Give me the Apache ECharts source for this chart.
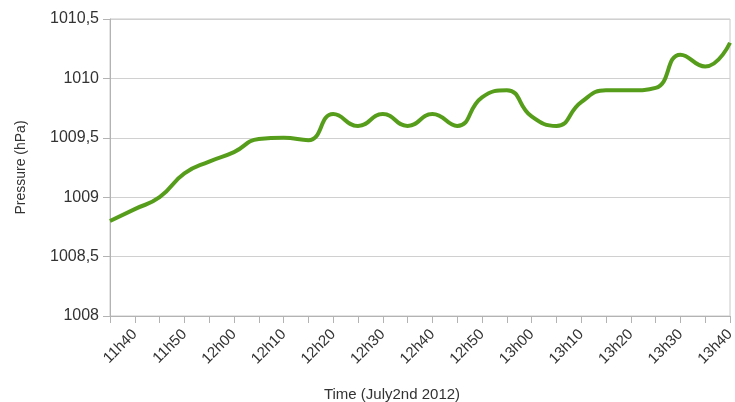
<!DOCTYPE html>
<html>
<head>
<meta charset="utf-8">
<script src="https://cdn.jsdelivr.net/npm/echarts@6/dist/echarts.min.js"></script>
<style>
  html, body { margin: 0; padding: 0; background: #fff; }
  #chart { width: 735px; height: 402px; }
</style>
</head>
<body>
<div id="chart"></div>
<script>
// readings every 5 minutes, 11h35 .. 13h40
var times = ['11h35', '11h40', '11h45', '11h50', '11h55', '12h00', '12h05', '12h10', '12h15',
    '12h20', '12h25', '12h30', '12h35', '12h40', '12h45', '12h50', '12h55', '13h00', '13h05',
    '13h10', '13h15', '13h20', '13h25', '13h30', '13h35', '13h40'];
var pressure = [1008.8, 1008.9, 1009.0, 1009.2, 1009.3, 1009.38, 1009.49, 1009.5, 1009.48,
    1009.7, 1009.6, 1009.7, 1009.6, 1009.7, 1009.6, 1009.84, 1009.9, 1009.68, 1009.6,
    1009.8, 1009.9, 1009.9, 1009.92, 1010.2, 1010.1, 1010.3];

var labelFont = 'Liberation Sans, Arial, sans-serif';

var Chart = function() {
    var _init = function() {
        if (typeof echarts == 'undefined') {
            console.warn('Warning - echarts.min.js is not loaded.');
            return;
        }
        var el = document.getElementById('chart');
        var myChart = echarts.init(el);
        myChart.setOption({
            animation: false,
            grid: {
                left: 110,
                right: 5,
                top: 19,
                bottom: 86,
                outerBoundsMode: 'none',
                show: true,
                borderColor: '#c8c8c8',
                borderWidth: 1
            },
            xAxis: {
                type: 'category',
                data: times,
                boundaryGap: false,
                name: 'Time (July2nd 2012)',
                nameLocation: 'middle',
                nameGap: 71,
                nameTextStyle: {
                    color: '#333',
                    fontSize: 15,
                    fontFamily: labelFont,
                    padding: [0, 56, 0, 0]
                },
                axisLine: { lineStyle: { color: '#b3b3b3' } },
                axisTick: { interval: 0, length: 7, lineStyle: { color: '#b3b3b3' } },
                axisLabel: {
                    interval: function(index) { return index % 2 === 1; },
                    rotate: 45,
                    margin: 16,
                    color: '#333',
                    fontSize: 15,
                    fontFamily: labelFont
                },
                splitLine: { show: false }
            },
            yAxis: {
                type: 'value',
                min: 1008,
                max: 1010.5,
                interval: 0.5,
                name: 'Pressure (hPa)',
                nameLocation: 'middle',
                nameGap: 82,
                nameTextStyle: { color: '#333', fontSize: 14, fontFamily: labelFont },
                axisLine: { show: true, lineStyle: { color: '#b3b3b3' } },
                axisTick: { show: true, length: 7, lineStyle: { color: '#b3b3b3' } },
                axisLabel: {
                    color: '#333',
                    fontSize: 16,
                    fontFamily: labelFont,
                    margin: 11,
                    formatter: function(v) { return String(v).replace('.', ','); }
                },
                splitLine: { lineStyle: { color: '#d0d0d0' } }
            },
            series: [
                {
                    name: 'Pressure',
                    type: 'line',
                    data: pressure,
                    smooth: true,
                    showSymbol: false,
                    lineStyle: { color: '#579d1c', width: 4 },
                    itemStyle: { color: '#579d1c' }
                }
            ]
        });
    };
    return { init: _init };
}();

document.addEventListener('DOMContentLoaded', function() {
    Chart.init();
});
</script>
</body>
</html>
